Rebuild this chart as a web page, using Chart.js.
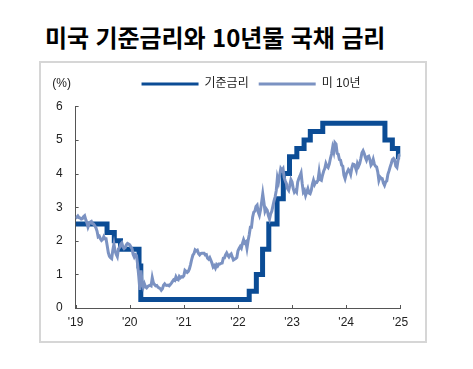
<!DOCTYPE html>
<html lang="ko">
<head>
<meta charset="utf-8">
<title>미국 기준금리와 10년물 국채 금리</title>
<script src="https://cdn.jsdelivr.net/npm/chart.js@4.4.1/dist/chart.umd.min.js"></script>
<style>
  html, body { margin: 0; padding: 0; background: #fff; }
  body { width: 473px; height: 369px; position: relative; overflow: hidden; }
  #title {
    position: absolute; left: 45px; top: 25px;
    font-family: 'Noto Sans CJK KR', sans-serif; font-weight: 700;
    font-size: 24px; line-height: 1; letter-spacing: -0.1px;
    color: #000; white-space: nowrap;
  }
  #frame {
    position: absolute; left: 39px; top: 61px; width: 388px; height: 282px;
    border: 2px solid #d6d6d6; box-sizing: border-box;
  }
  #wrap { position: absolute; left: 41px; top: 63px; width: 420px; height: 277px; }
</style>
</head>
<body>
<div id="title">미국 기준금리와 10년물 국채 금리</div>
<div id="frame"></div>
<div id="wrap"><canvas id="chart"></canvas></div>
<script>
// 기준금리 (upper bound), change dates as decimal years
var rateX = [2019.0, 2019.581, 2019.715, 2019.83, 2020.172, 2020.205,
             2022.208, 2022.34, 2022.455, 2022.57, 2022.723, 2022.838, 2022.953,
             2023.088, 2023.222, 2023.337, 2023.567,
             2024.716, 2024.853, 2024.965, 2025.0];
var rateY = [2.5, 2.25, 2.0, 1.75, 1.25, 0.25,
             0.5, 1.0, 1.75, 2.5, 3.25, 4.0, 4.5,
             4.75, 5.0, 5.25, 5.5,
             5.0, 4.75, 4.5, 4.5];

// 미 10년, 4 readings per month from Jan 2019
var tenYStart = 2019;
var tenYPerYear = 48;
var tenY = [
  // 2019
  2.66, 2.70, 2.74, 2.69,  2.68, 2.65, 2.66, 2.72,  2.75, 2.63, 2.54, 2.41,
  2.50, 2.56, 2.58, 2.51,  2.50, 2.45, 2.39, 2.29,  2.12, 2.14, 2.06, 2.01,
  2.04, 2.12, 2.06, 2.06,  1.86, 1.65, 1.54, 1.50,  1.47, 1.72, 1.90, 1.70,
  1.60, 1.53, 1.76, 1.80,  1.90, 1.94, 1.82, 1.77,  1.80, 1.88, 1.92, 1.90,
  // 2020
  1.88, 1.82, 1.77, 1.60,  1.52, 1.59, 1.56, 1.30,  0.95, 0.54, 1.12, 0.75,
  0.62, 0.72, 0.63, 0.60,  0.64, 0.66, 0.68, 0.66,  0.90, 0.75, 0.70, 0.66,
  0.67, 0.62, 0.60, 0.58,  0.53, 0.57, 0.68, 0.72,  0.68, 0.67, 0.68, 0.66,
  0.70, 0.74, 0.79, 0.84,  0.82, 0.93, 0.86, 0.84,  0.94, 0.90, 0.93, 0.92,
  // 2021
  0.96, 1.12, 1.09, 1.06,  1.09, 1.17, 1.30, 1.45,  1.57, 1.62, 1.73, 1.70,
  1.72, 1.62, 1.58, 1.62,  1.63, 1.63, 1.63, 1.58,  1.59, 1.48, 1.45, 1.50,
  1.42, 1.33, 1.22, 1.26,  1.19, 1.29, 1.25, 1.31,  1.31, 1.33, 1.34, 1.48,
  1.49, 1.58, 1.64, 1.57,  1.52, 1.58, 1.61, 1.52,  1.43, 1.45, 1.47, 1.50,
  // 2022
  1.70, 1.77, 1.83, 1.78,  1.92, 2.03, 1.94, 1.97,  1.78, 2.00, 2.18, 2.40,
  2.40, 2.70, 2.85, 2.88,  3.02, 3.06, 2.85, 2.76,  2.92, 3.15, 3.40, 3.15,
  2.88, 2.96, 2.91, 2.75,  2.65, 2.80, 2.88, 3.03,  3.19, 3.31, 3.50, 3.88,
  3.75, 3.95, 4.15, 4.10,  4.15, 3.88, 3.78, 3.70,  3.55, 3.50, 3.65, 3.82,
  // 2023
  3.75, 3.56, 3.45, 3.50,  3.45, 3.75, 3.85, 3.93,  4.02, 3.70, 3.45, 3.50,
  3.35, 3.45, 3.55, 3.42,  3.40, 3.50, 3.68, 3.80,  3.68, 3.75, 3.74, 3.80,
  4.05, 3.82, 3.80, 3.95,  4.07, 4.15, 4.30, 4.22,  4.18, 4.28, 4.45, 4.58,
  4.78, 4.65, 4.92, 4.88,  4.60, 4.58, 4.42, 4.40,  4.25, 4.22, 3.95, 3.85,
  // 2024
  3.98, 4.05, 4.12, 4.08,  3.98, 4.17, 4.28, 4.27,  4.20, 4.10, 4.30, 4.22,
  4.30, 4.45, 4.62, 4.68,  4.60, 4.48, 4.40, 4.50,  4.52, 4.42, 4.25, 4.30,
  4.42, 4.28, 4.22, 4.20,  4.05, 3.80, 3.90, 3.86,  3.85, 3.72, 3.65, 3.75,
  3.78, 3.98, 4.08, 4.20,  4.30, 4.42, 4.45, 4.40,  4.22, 4.18, 4.40, 4.55,
  // Jan 2025
  4.57
];

var xTicks = [2019, 2020, 2021, 2022, 2023, 2024, 2025];
var xTickLabels = ["'19", "'20", "'21", "'22", "'23", "'24", "'25"];
var yTicks = [0, 1, 2, 3, 4, 5, 6];

var rateColor = '#0b4c95';
var tenYColor = '#7b92c2';
var axisColor = '#555555';

var ratePoints = rateX.map(function (x, i) { return { x: x, y: rateY[i] }; });
var tenYPoints = tenY.map(function (v, i) { return { x: tenYStart + i / tenYPerYear, y: v }; });

Chart.defaults.font.family = "'Liberation Sans', 'Noto Sans CJK KR', sans-serif";
Chart.defaults.font.size = 12;
Chart.defaults.color = '#222';

// small ticks pointing into the plot, plus the (%) unit label
var innerTicks = {
  id: 'innerTicks',
  afterDraw: function (chart) {
    var ctx = chart.ctx, xs = chart.scales.x, ys = chart.scales.y;
    ctx.save();
    ctx.strokeStyle = axisColor;
    ctx.lineWidth = 1;
    ctx.beginPath();
    ys.ticks.forEach(function (t) {
      var py = Math.round(ys.getPixelForValue(t.value)) + 0.5;
      ctx.moveTo(ys.right, py);
      ctx.lineTo(ys.right + 3, py);
    });
    xs.ticks.forEach(function (t) {
      var px = Math.round(xs.getPixelForValue(t.value)) + 0.5;
      ctx.moveTo(px, xs.top);
      ctx.lineTo(px, xs.top - 3);
    });
    ctx.stroke();

    var hb = chart.legend.legendHitBoxes[0];
    ctx.fillStyle = '#222';
    ctx.font = "12px 'Liberation Sans', sans-serif";
    ctx.textAlign = 'center';
    ctx.textBaseline = 'middle';
    ctx.fillText('(%)', ys.right - 14, hb.top + hb.height / 2);
    ctx.restore();
  }
};

new Chart(document.getElementById('chart'), {
  type: 'line',
  data: {
    datasets: [{
      label: '기준금리',
      data: ratePoints,
      stepped: true,
      borderColor: rateColor,
      backgroundColor: rateColor,
      borderWidth: 5,
      pointRadius: 0,
      order: 1
    }, {
      label: '미 10년',
      data: tenYPoints,
      borderColor: tenYColor,
      backgroundColor: tenYColor,
      borderWidth: 3,
      pointRadius: 0,
      tension: 0,
      order: 0
    }]
  },
  options: {
    responsive: true,
    maintainAspectRatio: false,
    animation: false,
    layout: { padding: { top: 5, left: 0, right: 0, bottom: 0 } },
    plugins: {
      tooltip: { enabled: false },
      legend: {
        position: 'top',
        labels: {
          boxWidth: 57,
          boxHeight: 3,
          padding: 10,
          color: '#222',
          font: { size: 12 },
          generateLabels: function (chart) {
            var items = Chart.defaults.plugins.legend.labels.generateLabels(chart);
            items.forEach(function (it) { it.lineWidth = 0; it.fillStyle = it.strokeStyle; });
            return items.sort(function (a, b) { return a.datasetIndex - b.datasetIndex; });
          }
        }
      }
    },
    scales: {
      x: {
        type: 'linear',
        position: 'bottom',
        min: 2019,
        max: 2025,
        afterBuildTicks: function (s) { s.ticks = xTicks.map(function (v) { return { value: v }; }); },
        afterFit: function (s) { s.height = 32; },
        grid: { display: false, drawTicks: false },
        border: { display: true, color: axisColor, width: 1 },
        ticks: {
          autoSkip: false, maxRotation: 0, padding: 7, color: '#222',
          callback: function (v) { var i = xTicks.indexOf(v); return i < 0 ? '' : xTickLabels[i]; }
        }
      },
      y: {
        position: 'left',
        min: 0,
        max: 6,
        afterBuildTicks: function (s) { s.ticks = yTicks.map(function (v) { return { value: v }; }); },
        afterFit: function (s) { s.width = 34.6; },
        grid: { display: false, drawTicks: false },
        border: { display: true, color: axisColor, width: 1 },
        ticks: { padding: 13, color: '#222' }
      },
      // empty spacers to place the plot area inside the frame
      xTop: {
        type: 'linear', position: 'top',
        grid: { display: false, drawTicks: false }, border: { display: false },
        ticks: { display: false },
        afterFit: function (s) { s.height = 6.4; }
      },
      yRight: {
        type: 'linear', position: 'right',
        grid: { display: false, drawTicks: false }, border: { display: false },
        ticks: { display: false },
        afterFit: function (s) { s.width = 60.7; }
      }
    }
  },
  plugins: [innerTicks]
});
</script>
</body>
</html>
